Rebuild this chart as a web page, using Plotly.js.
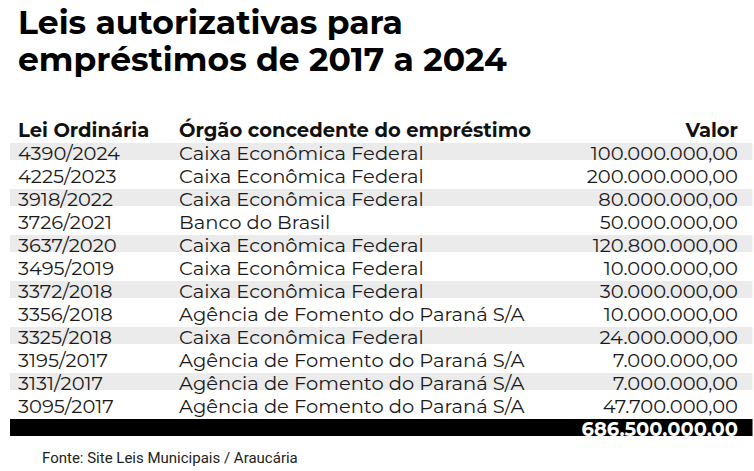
<!DOCTYPE html>
<html>
<head>
<meta charset="utf-8">
<script src="https://cdn.plot.ly/plotly-3.0.1.min.js"></script>
<style>
  html, body { margin: 0; padding: 0; background: #fff; }
  #grafico { width: 754px; height: 471px; }
</style>
</head>
<body>
<div id="grafico"></div>
<script>
const leis = ['4390/2024', '4225/2023', '3918/2022', '3726/2021', '3637/2020', '3495/2019',
    '3372/2018', '3356/2018', '3325/2018', '3195/2017', '3131/2017', '3095/2017'];
const orgaos = ['Caixa Econômica Federal', 'Caixa Econômica Federal', 'Caixa Econômica Federal',
    'Banco do Brasil', 'Caixa Econômica Federal', 'Caixa Econômica Federal', 'Caixa Econômica Federal',
    'Agência de Fomento do Paraná S/A', 'Caixa Econômica Federal', 'Agência de Fomento do Paraná S/A',
    'Agência de Fomento do Paraná S/A', 'Agência de Fomento do Paraná S/A'];
const valores = [100000000, 200000000, 80000000, 50000000, 120800000, 10000000,
    30000000, 10000000, 24000000, 7000000, 7000000, 47700000];
const cabecalho = ['Lei Ordinária', 'Órgão concedente do empréstimo', 'Valor', ''];

// formato brasileiro: 1.234.567,00
function brl(v) {
    const [int, dec] = v.toFixed(2).split('.');
    return int.replace(/\B(?=(\d{3})+(?!\d))/g, '.') + ',' + dec;
}

const total = valores.reduce((a, b) => a + b, 0);
const nLinhas = leis.length + 1; // leis + total

// faixas: cinza nas linhas pares, preto no total
const fundo = leis.map((_, i) => i % 2 === 0 ? '#ebebeb' : 'rgba(0,0,0,0)').concat(['#000000']);
const corTexto = leis.map(() => '#1a1a1a').concat(['#ffffff']);
const peso = leis.map(() => 'normal').concat(['bold']);
const vazio = Array(nLinhas).fill('');

const fonte = 'Montserrat, "Noto Sans", sans-serif';
const passo = 23;        // altura de cada linha em px
const centro0 = 151.5;   // centro da primeira faixa em px
const topoTexto = 114;
const largura = [161, 380, 195, 6];
const alinhar = ['left', 'left', 'right', 'left'];
const semLinha = { width: 0, color: 'rgba(0,0,0,0)' };

const data = [
    // faixas de fundo como barras horizontais
    {
        type: 'bar',
        orientation: 'h',
        y: vazio.map((_, i) => i),
        x: vazio.map(() => 1),
        width: 0.77,
        marker: { color: fundo, line: { width: 0 } },
        hoverinfo: 'skip',
        showlegend: false
    },
    // textos
    {
        type: 'table',
        domain: { x: [10 / 754, 752 / 754], y: [(471 - 446) / 471, (471 - topoTexto) / 471] },
        columnwidth: largura,
        header: {
            values: cabecalho,
            align: alinhar,
            fill: { color: 'rgba(0,0,0,0)' },
            line: semLinha,
            font: { family: fonte, size: 19.5, color: '#111111', weight: 'bold' },
            height: passo
        },
        cells: {
            values: [
                leis.concat(['']),
                orgaos.concat(['']),
                valores.map(brl).concat([brl(total)]),
                vazio
            ],
            align: alinhar,
            fill: { color: 'rgba(0,0,0,0)' },
            line: semLinha,
            font: {
                family: fonte, size: 19.5,
                color: [corTexto, corTexto, corTexto, corTexto],
                weight: [peso, peso, peso, peso]
            },
            height: passo
        }
    }
];

const layout = {
    width: 754,
    height: 471,
    margin: { l: 0, r: 0, t: 0, b: 0 },
    paper_bgcolor: '#ffffff',
    plot_bgcolor: 'rgba(0,0,0,0)',
    hovermode: false,
    bargap: 0,
    xaxis: { visible: false, domain: [9.5 / 754, 752.5 / 754], range: [0, 1], fixedrange: true },
    yaxis: {
        visible: false,
        range: [(471 - centro0) / passo, -centro0 / passo],
        fixedrange: true
    },
    annotations: [
        {
            text: '<b>Leis autorizativas para</b>',
            x: 16 / 754, y: (471 - 22) / 471
        },
        {
            text: '<b>empréstimos de 2017 a 2024</b>',
            x: 16 / 754, y: (471 - 59) / 471
        },
        {
            text: 'Fonte: Site Leis Municipais / Araucária',
            x: 40 / 754, y: (471 - 458) / 471,
            font: { family: 'Roboto, sans-serif', size: 15, color: '#222' }
        }
    ].map(a => Object.assign({
        xref: 'paper', yref: 'paper', xanchor: 'left', yanchor: 'middle', showarrow: false,
        font: { family: fonte, size: 33, color: '#000' }
    }, a))
};

Plotly.newPlot('grafico', data, layout, { displayModeBar: false });
</script>
</body>
</html>
